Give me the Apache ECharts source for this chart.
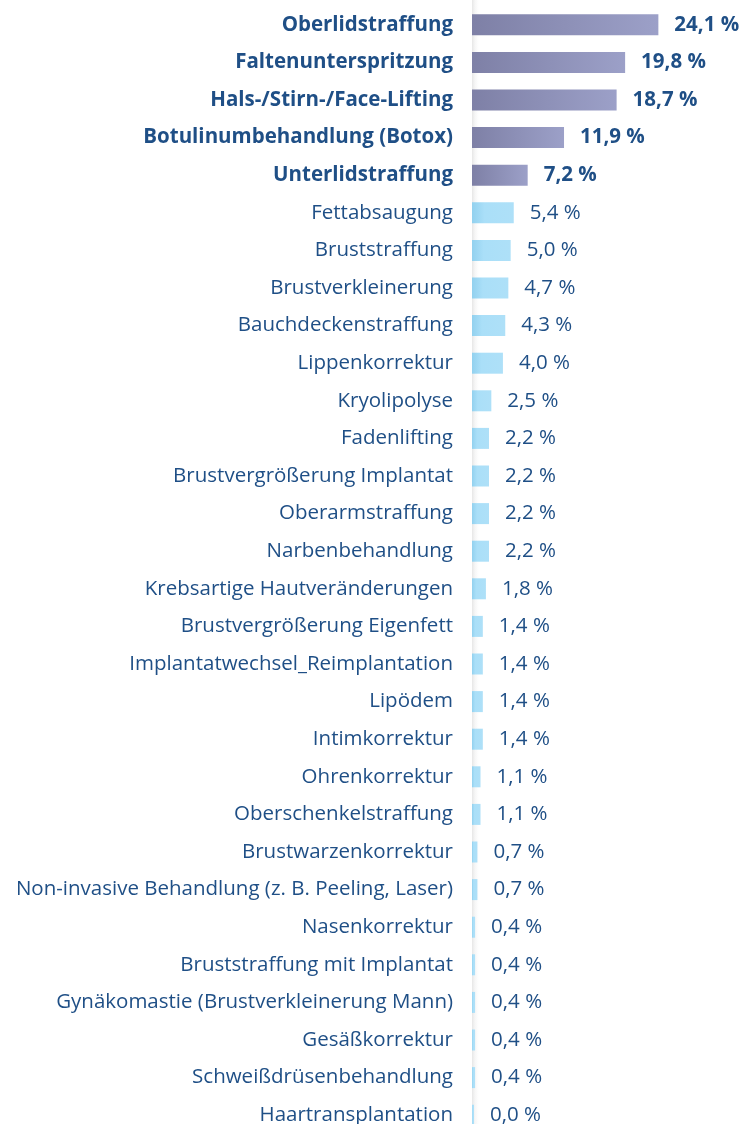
<!DOCTYPE html>
<html>
<head>
<meta charset="utf-8">
<script src="https://cdn.jsdelivr.net/npm/echarts@6/dist/echarts.min.js"></script>
<style>
	html, body { margin: 0; padding: 0; background: #fff; overflow: hidden; }
	#chart { width: 748px; height: 1140px; }
</style>
</head>
<body>
<div id="chart"></div>
<script>
const categories = [
	"Oberlidstraffung",
	"Faltenunterspritzung",
	"Hals-/Stirn-/Face-Lifting",
	"Botulinumbehandlung (Botox)",
	"Unterlidstraffung",
	"Fettabsaugung",
	"Bruststraffung",
	"Brustverkleinerung",
	"Bauchdeckenstraffung",
	"Lippenkorrektur",
	"Kryolipolyse",
	"Fadenlifting",
	"Brustvergrößerung Implantat",
	"Oberarmstraffung",
	"Narbenbehandlung",
	"Krebsartige Hautveränderungen",
	"Brustvergrößerung Eigenfett",
	"Implantatwechsel_Reimplantation",
	"Lipödem",
	"Intimkorrektur",
	"Ohrenkorrektur",
	"Oberschenkelstraffung",
	"Brustwarzenkorrektur",
	"Non-invasive Behandlung (z. B. Peeling, Laser)",
	"Nasenkorrektur",
	"Bruststraffung mit Implantat",
	"Gynäkomastie (Brustverkleinerung Mann)",
	"Gesäßkorrektur",
	"Schweißdrüsenbehandlung",
	"Haartransplantation",
];
const shares = [
	24.1, 19.8, 18.7, 11.9, 7.2, 5.4, 5.0, 4.7, 4.3, 4.0,
	2.5, 2.2, 2.2, 2.2, 2.2, 1.8, 1.4, 1.4, 1.4, 1.4,
	1.1, 1.1, 0.7, 0.7, 0.4, 0.4, 0.4, 0.4, 0.4, 0.0,
];
const topCount = 5;

const textColor = "#1f4f86";
const font = "'Open Sans', 'Noto Sans', sans-serif";

const topFill = new echarts.graphic.LinearGradient(0, 0, 1, 0, [
	{ offset: 0, color: "#7e80a6" },
	{ offset: 1, color: "#9ca0c8" },
]);
const restFill = new echarts.graphic.LinearGradient(0, 0, 1, 0, [
	{ offset: 0, color: "#92d1ef" },
	{ offset: 0.3, color: "#aadff8" },
	{ offset: 1, color: "#aee0f8" },
]);

const myChart = echarts.init(document.getElementById("chart"), null, { renderer: "canvas" });

myChart.setOption({
	animation: false,
	grid: { left: 472, top: 6, height: 1128, width: 232, containLabel: false },
	graphic: [
		{
			type: "rect",
			left: 472,
			top: 0,
			shape: { width: 8, height: 1140 },
			style: {
				fill: new echarts.graphic.LinearGradient(0, 0, 1, 0, [
					{ offset: 0, color: "#e6e6e6" },
					{ offset: 1, color: "rgba(255,255,255,0)" },
				]),
			},
			z: -1,
		},
	],
	xAxis: {
		type: "value",
		min: 0,
		max: 30,
		show: false,
	},
	yAxis: {
		type: "category",
		inverse: true,
		data: categories.map((c, i) => ({
			value: c,
			textStyle: { fontWeight: i < topCount ? "bold" : "normal" },
		})),
		axisLine: { show: false },
		axisTick: { show: false },
		axisLabel: {
			color: textColor,
			fontFamily: font,
			fontSize: 20.5,
			margin: 19,
		},
	},
	series: [
		{
			type: "bar",
			barWidth: 21,
			barMinHeight: 2,
			data: shares.map((v, i) => ({
				value: v,
				itemStyle: { color: i < topCount ? topFill : restFill },
				label: { fontWeight: i < topCount ? "bold" : "normal" },
			})),
			label: {
				show: true,
				position: "right",
				distance: 16,
				color: textColor,
				fontFamily: font,
				fontSize: 20.5,
				formatter: (p) => p.value.toFixed(1).replace(".", ",") + " %",
			},
		},
	],
});
</script>
</body>
</html>
